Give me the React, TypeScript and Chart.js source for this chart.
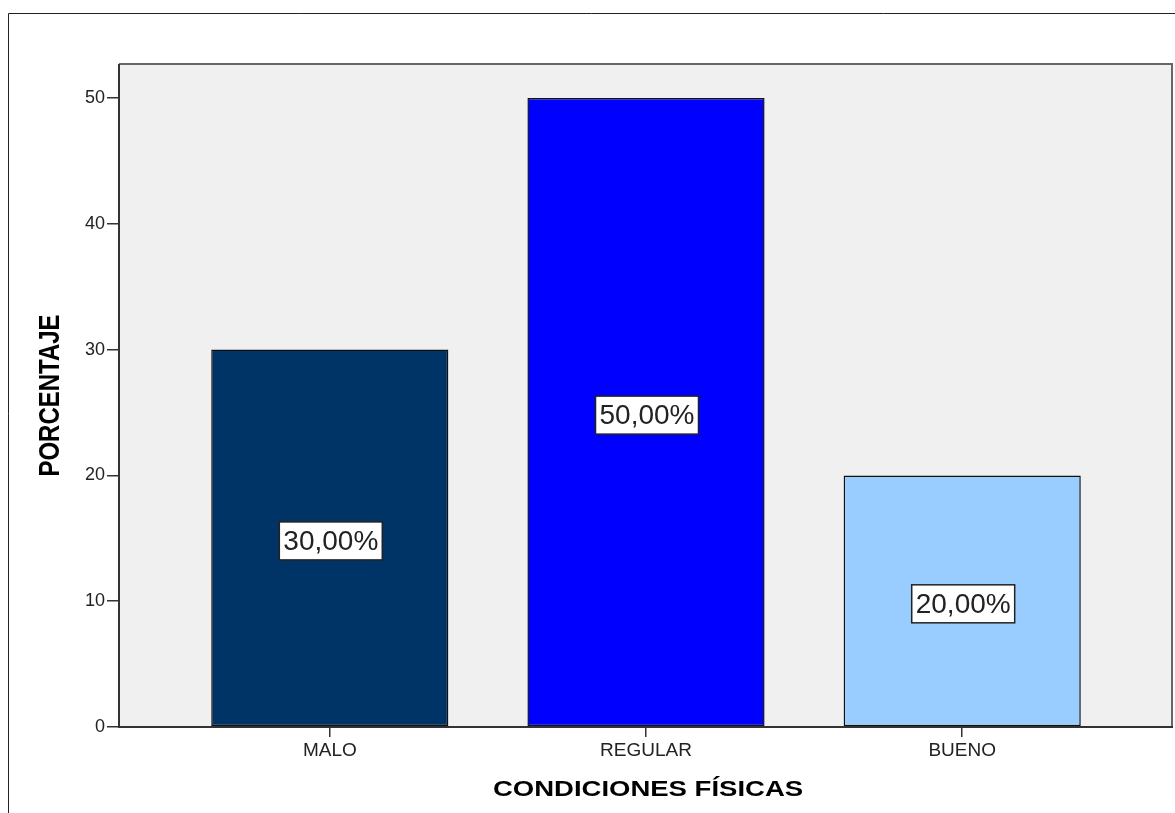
import React, { useEffect, useRef } from "react";
import { Chart, registerables } from "chart.js";

Chart.register(...registerables);

const categories = ["MALO", "REGULAR", "BUENO"];
const percentages = [30, 50, 20];
const barColors = ["#003366", "#0000ff", "#99ccff"];
const yTickValues = [0, 10, 20, 30, 40, 50];
const xTitle = "CONDICIONES FÍSICAS";
const yTitle = "PORCENTAJE";

const W = 1175;
const H = 813;

const formatPct = (v: number) => `${v.toFixed(2).replace(".", ",")}%`;

// Outer frame, plot panel background and the stretched bold axis titles.
const panelPlugin = {
  id: "panel",
  beforeDraw(chart: any) {
    const { ctx, chartArea: a } = chart;
    ctx.save();
    ctx.fillStyle = "#ffffff";
    ctx.fillRect(0, 0, W, H);
    ctx.strokeStyle = "#222";
    ctx.lineWidth = 1;
    ctx.beginPath();
    ctx.moveTo(8.5, H);
    ctx.lineTo(8.5, 13.5);
    ctx.lineTo(W, 13.5);
    ctx.stroke();
    ctx.fillStyle = "#f0f0f0";
    ctx.fillRect(a.left, a.top, a.right - a.left, a.bottom - a.top);

    ctx.fillStyle = "#000";
    ctx.font = "bold 22px 'Liberation Sans', Arial, sans-serif";
    ctx.textAlign = "center";
    ctx.textBaseline = "alphabetic";
    ctx.save();
    ctx.translate((a.left + a.right) / 2 + 2, 796);
    ctx.scale(1.25, 1);
    ctx.fillText(xTitle, 0, 0);
    ctx.restore();

    ctx.font = "bold 24px 'Liberation Sans', Arial, sans-serif";
    ctx.save();
    ctx.translate(59, (a.top + a.bottom) / 2);
    ctx.scale(1.22, 1);
    ctx.rotate(-Math.PI / 2);
    ctx.fillText(yTitle, 0, 0);
    ctx.restore();
    ctx.restore();
  },
  afterDatasetsDraw(chart: any) {
    const { ctx, chartArea: a } = chart;
    ctx.save();
    // panel outline
    ctx.strokeStyle = "#666";
    ctx.lineWidth = 2;
    ctx.beginPath();
    ctx.moveTo(a.left, a.top);
    ctx.lineTo(a.right - 1, a.top);
    ctx.lineTo(a.right - 1, a.bottom);
    ctx.stroke();
    ctx.strokeStyle = "#333";
    ctx.beginPath();
    ctx.moveTo(a.left, a.top);
    ctx.lineTo(a.left, a.bottom);
    ctx.lineTo(a.right, a.bottom);
    ctx.stroke();

    // value boxes in the middle of each bar
    const meta = chart.getDatasetMeta(0);
    ctx.font = "28px 'Liberation Sans', Arial, sans-serif";
    ctx.textAlign = "center";
    ctx.textBaseline = "middle";
    meta.data.forEach((bar: any, i: number) => {
      const text = formatPct(percentages[i]);
      const tw = ctx.measureText(text).width;
      const cx = bar.x + 1;
      const cy = (bar.y + bar.base) / 2 + 3;
      const bw = tw + 8;
      const bh = 38;
      ctx.fillStyle = "#ffffff";
      ctx.fillRect(cx - bw / 2, cy - bh / 2, bw, bh);
      ctx.strokeStyle = "#222";
      ctx.lineWidth = 1.5;
      ctx.strokeRect(cx - bw / 2, cy - bh / 2, bw, bh);
      ctx.fillStyle = "#222";
      ctx.fillText(text, cx, cy + 1);
    });
    ctx.restore();
  },
};

export default function App() {
  const canvasRef = useRef<HTMLCanvasElement | null>(null);

  useEffect(() => {
    const canvas = canvasRef.current;
    if (!canvas) return;
    const chart = new Chart(canvas, {
      type: "bar",
      data: {
        datasets: [
          {
            data: percentages.map((v, i) => ({ x: i, y: v })),
            backgroundColor: barColors,
            borderColor: "#111",
            borderWidth: 1.5,
            borderSkipped: false,
            barPercentage: 0.75,
            categoryPercentage: 1,
          },
        ],
      },
      options: {
        responsive: false,
        animation: false,
        devicePixelRatio: 1,
        layout: { padding: { top: 64, right: 2, left: 0, bottom: 0 } },
        plugins: {
          legend: { display: false },
          tooltip: { enabled: false },
        },
        scales: {
          x: {
            type: "linear",
            offset: false,
            min: -2 / 3,
            max: 8 / 3,
            afterBuildTicks: (s: any) => {
              s.ticks = categories.map((_, i) => ({ value: i }));
            },
            afterFit: (s: any) => {
              s.height = H - 727;
            },
            ticks: {
              includeBounds: false,
              autoSkip: false,
              maxRotation: 0,
              padding: 2,
              color: "#222",
              font: { family: "'Liberation Sans', Arial, sans-serif", size: 19 },
              callback: (v: any) => categories[v as number] ?? "",
            },
            grid: {
              offset: false,
              drawOnChartArea: false,
              drawTicks: true,
              tickLength: 10,
              color: "#333",
              lineWidth: 1.5,
            },
            border: { display: false },
          },
          y: {
            min: 0,
            max: 52.7,
            afterBuildTicks: (s: any) => {
              s.ticks = yTickValues.map((v) => ({ value: v }));
            },
            afterFit: (s: any) => {
              s.width = 119;
            },
            ticks: {
              includeBounds: false,
              padding: 2,
              color: "#222",
              font: { family: "'Liberation Sans', Arial, sans-serif", size: 18 },
            },
            grid: {
              drawOnChartArea: false,
              drawTicks: true,
              tickLength: 12,
              color: "#333",
              lineWidth: 1.5,
            },
            border: { display: false },
          },
        },
      },
      plugins: [panelPlugin],
    });
    return () => chart.destroy();
  }, []);

  return (
    <div style={{ position: "fixed", left: 0, top: 0, width: W, height: H, background: "#fff" }}>
      <canvas ref={canvasRef} width={W} height={H} style={{ display: "block", width: W, height: H }} />
    </div>
  );
}
